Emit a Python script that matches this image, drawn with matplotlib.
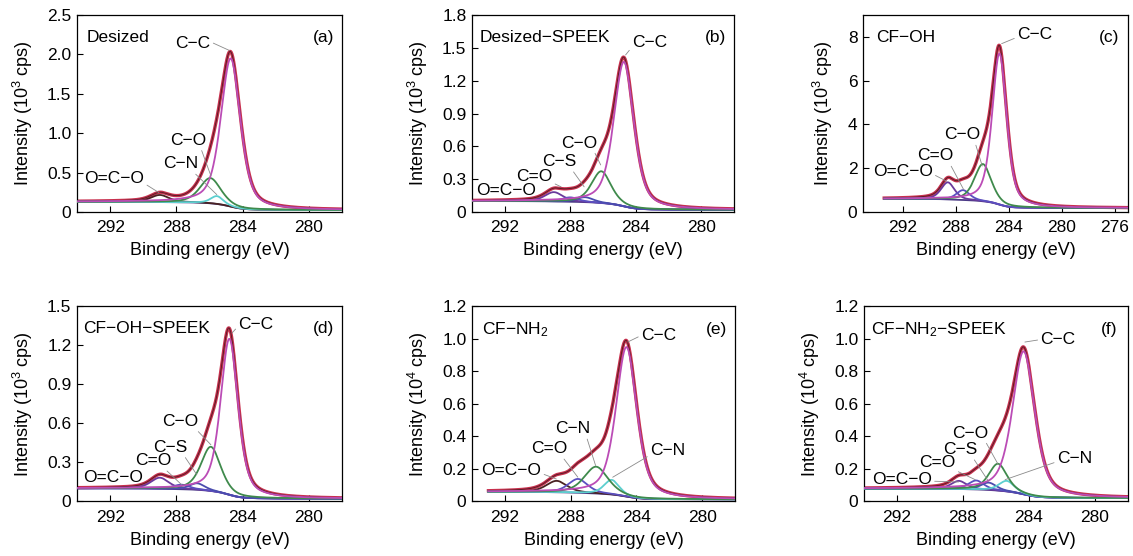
import numpy as np
import matplotlib
matplotlib.use("Agg")
import matplotlib.pyplot as plt

plt.rcParams['font.family'] = ['Liberation Sans', 'DejaVu Sans']
plt.rcParams['mathtext.fontset'] = 'custom'
plt.rcParams['mathtext.rm'] = 'Liberation Sans'
plt.rcParams['mathtext.it'] = 'Liberation Sans:italic'

# ---------------- data ----------------
panel_tags = ['(a)', '(b)', '(c)', '(d)', '(e)', '(f)']
sample_names = ['Desized', 'Desized\u2212SPEEK', 'CF\u2212OH', 'CF\u2212OH\u2212SPEEK',
                'CF\u2212NH$_2$', 'CF\u2212NH$_2$\u2212SPEEK']
y_units = ['10$^3$', '10$^3$', '10$^3$', '10$^3$', '10$^4$', '10$^4$']

# binding-energy span of recorded spectrum (eV)
be_start = [294.0, 294.0, 293.4, 294.0, 293.0, 294.0]
be_end = [278.0, 278.0, 275.0, 278.0, 278.0, 278.0]
# Shirley background levels (high-BE side, low-BE side)
bg_high = [0.13, 0.10, 0.60, 0.10, 0.058, 0.078]
bg_low = [0.025, 0.02, 0.18, 0.02, 0.012, 0.02]

# fitted components: name, centre (eV), height above background, FWHM (eV)
a_names = ['C\u2212C', 'C\u2212O', 'C\u2212N', 'O=C\u2212O']
a_centers = [284.72, 285.95, 285.55, 289.0]
a_heights = [1.88, 0.32, 0.10, 0.09]
a_fwhm = [1.4, 1.5, 0.9, 1.3]

b_names = ['C\u2212C', 'C\u2212O', 'C\u2212S', 'C=O', 'O=C\u2212O']
b_centers = [284.72, 286.1, 287.1, 288.0, 289.0]
b_heights = [1.32, 0.29, 0.045, 0.04, 0.085]
b_fwhm = [1.45, 1.4, 1.2, 1.2, 1.3]

c_names = ['C\u2212C', 'C\u2212O', 'C=O', 'O=C\u2212O']
c_centers = [284.7, 285.95, 287.45, 288.6]
c_heights = [6.9, 1.7, 0.45, 0.78]
c_fwhm = [1.3, 1.5, 1.2, 1.2]

d_names = ['C\u2212C', 'C\u2212O', 'C\u2212S', 'C=O', 'O=C\u2212O']
d_centers = [284.8, 285.92, 286.75, 287.7, 289.0]
d_heights = [1.2, 0.34, 0.05, 0.035, 0.085]
d_fwhm = [1.25, 1.4, 1.1, 1.2, 1.3]

e_names = ['C\u2212C', 'C\u2212N', 'C\u2212N', 'C=O', 'O=C\u2212O']
e_centers = [284.6, 286.45, 285.5, 287.55, 288.85]
e_heights = [0.92, 0.165, 0.09, 0.085, 0.07]
e_fwhm = [1.5, 1.7, 1.1, 1.4, 1.5]

f_names = ['C\u2212C', 'C\u2212O', 'C\u2212N', 'C\u2212S', 'C=O', 'O=C\u2212O']
f_centers = [284.32, 285.88, 285.35, 286.45, 287.2, 288.25]
f_heights = [0.88, 0.165, 0.065, 0.045, 0.055, 0.05]
f_fwhm = [1.6, 1.3, 1.1, 1.1, 1.1, 1.1]

# y-axis limits and ticks
y_max = [2.5, 1.8, 9.0, 1.5, 1.2, 1.2]
y_ticks = [[0, 0.5, 1.0, 1.5, 2.0, 2.5], [0, 0.3, 0.6, 0.9, 1.2, 1.5, 1.8], [0, 2, 4, 6, 8],
           [0, 0.3, 0.6, 0.9, 1.2, 1.5], [0, 0.2, 0.4, 0.6, 0.8, 1.0, 1.2], [0, 0.2, 0.4, 0.6, 0.8, 1.0, 1.2]]
y_ticklabels = [['0', '0.5', '1.0', '1.5', '2.0', '2.5'], ['0', '0.3', '0.6', '0.9', '1.2', '1.5', '1.8'],
                ['0', '2', '4', '6', '8'], ['0', '0.3', '0.6', '0.9', '1.2', '1.5'],
                ['0', '0.2', '0.4', '0.6', '0.8', '1.0', '1.2'], ['0', '0.2', '0.4', '0.6', '0.8', '1.0', '1.2']]
x_lims = [(294, 278), (294, 278), (295, 275), (294, 278), (294, 278), (294, 278)]
x_ticks = [[292, 288, 284, 280], [292, 288, 284, 280], [292, 288, 284, 280, 276],
           [292, 288, 284, 280], [292, 288, 284, 280], [292, 288, 284, 280]]

# annotation placement: (text BE, text I, target BE, target I, relpos)
a_notes = [(287.0, 2.14, 284.8, 2.05, (1, 0.6)), (287.3, 0.91, 285.92, 0.46, (0.85, 0)),
           (287.75, 0.61, 285.56, 0.22, (0.85, 0)), (291.75, 0.42, 289.05, 0.245, (1, 0.2))]
b_notes = [(283.15, 1.55, 284.62, 1.435, (0, 0.2)), (287.45, 0.63, 286.14, 0.43, (0.9, 0)),
           (288.65, 0.46, 287.15, 0.23, (0.85, 0)), (290.2, 0.323, 288.56, 0.23, (1, 0.1)),
           (291.9, 0.195, None, None, None)]
c_notes = [(282.05, 8.12, 284.54, 7.69, (0, 0.3)), (287.5, 3.52, 286.0, 2.1, (0.85, 0)),
           (289.55, 2.56, 287.4, 1.02, (0.9, 0)), (292.0, 1.87, 288.67, 1.4, (1, 0.3))]
d_notes = [(283.2, 1.36, 284.64, 1.295, (0, 0.4)), (287.8, 0.615, 285.92, 0.435, (0.9, 0.1)),
           (288.4, 0.415, 286.77, 0.205, (0.9, 0)), (289.4, 0.312, 287.69, 0.128, (0.8, 0)),
           (291.85, 0.18, None, None, None)]
e_notes = [(282.65, 1.02, 284.53, 0.98, (0, 0.5)), (287.9, 0.446, 286.48, 0.22, (0.9, 0)),
           (282.1, 0.312, 285.44, 0.148, (0, 0.2)), (289.3, 0.323, 287.56, 0.148, (0.85, 0)),
           (291.6, 0.19, 288.87, 0.137, (1, 0.3))]
f_notes = [(282.25, 0.995, 284.25, 0.98, (0, 0.5)), (287.55, 0.42, 285.86, 0.225, (0.9, 0)),
           (281.25, 0.262, 285.45, 0.133, (0, 0.3)), (288.15, 0.318, 286.46, 0.123, (0.85, 0)),
           (289.55, 0.236, 287.26, 0.133, (1, 0)), (291.7, 0.133, 288.27, 0.119, (1, 0.4))]

# ---------------- styling ----------------
comp_colors = {'C\u2212C': '#bb4cb6', 'C\u2212O': '#3f8a4c', 'C\u2212N': '#5ccfcf',
               'C\u2212S': '#4a4cae', 'C=O': '#5a4fc0', 'O=C\u2212O': '#6a3a9c'}
env_color = '#c8304e'
raw_color = '#2b1616'
bg_color = '#4b3a86'

positions = [[0.0680, 0.6187, 0.2339, 0.3543], [0.4166, 0.6187, 0.2312, 0.3543],
             [0.7617, 0.6187, 0.2339, 0.3543], [0.0680, 0.0984, 0.2339, 0.3507],
             [0.4166, 0.0984, 0.2321, 0.3507], [0.7626, 0.0984, 0.2330, 0.3507]]
name_pos = [(0.038, 0.885), (0.03, 0.885), (0.05, 0.885), (0.023, 0.885), (0.037, 0.88), (0.027, 0.88)]

all_names = [a_names, b_names, c_names, d_names, e_names, f_names]
all_centers = [a_centers, b_centers, c_centers, d_centers, e_centers, f_centers]
all_heights = [a_heights, b_heights, c_heights, d_heights, e_heights, f_heights]
all_fwhm = [a_fwhm, b_fwhm, c_fwhm, d_fwhm, e_fwhm, f_fwhm]
all_notes = [a_notes, b_notes, c_notes, d_notes, e_notes, f_notes]
comp_override = {4: {1: '#3f8a4c', 4: '#4a2222'}, 0: {3: '#4a2222'}}

ETA = 0.5


def pseudo_voigt(x, c, h, w):
    g = np.exp(-4 * np.log(2) * (x - c) ** 2 / w ** 2)
    lz = 1.0 / (1.0 + 4 * (x - c) ** 2 / w ** 2)
    return h * ((1 - ETA) * g + ETA * lz)


fig = plt.figure(figsize=(11.33, 5.56), dpi=100)
fs = 12.5

for i in range(6):
    ax = fig.add_axes(positions[i])
    x = np.linspace(be_end[i], be_start[i], 800)  # ascending BE
    comps = [pseudo_voigt(x, c, h, w) for c, h, w in zip(all_centers[i], all_heights[i], all_fwhm[i])]
    total = np.sum(comps, axis=0)
    cum = np.cumsum(total)
    bg = bg_low[i] + (bg_high[i] - bg_low[i]) * cum / cum[-1]
    env = bg + total
    ax.plot(x, env, color=env_color, lw=2.4, zorder=2)
    ax.plot(x, env, color=raw_color, lw=0.7, alpha=0.7, zorder=3)
    ax.plot(x, bg, color=bg_color, lw=1.3, zorder=4)
    order = list(range(len(comps)))[::-1]
    for k in order:
        col = comp_override.get(i, {}).get(k, comp_colors[all_names[i][k]])
        ax.plot(x, bg + comps[k], color=col, lw=1.3, zorder=5)

    ax.set_xlim(*x_lims[i])
    ax.set_ylim(0, y_max[i])
    ax.set_xticks(x_ticks[i])
    ax.set_yticks(y_ticks[i])
    ax.set_yticklabels(y_ticklabels[i])
    ax.tick_params(direction='in', length=4, width=0.8, labelsize=fs)
    ax.tick_params(axis='x', pad=6)
    ax.tick_params(axis='y', pad=4)
    for s in ax.spines.values():
        s.set_linewidth(0.9)
    ax.set_xlabel('Binding energy (eV)', fontsize=fs + 0.5, labelpad=5)
    ax.set_ylabel('Intensity (' + y_units[i] + ' cps)', fontsize=fs + 0.5, labelpad=9)

    ax.text(name_pos[i][0], name_pos[i][1], sample_names[i], transform=ax.transAxes,
            fontsize=fs, ha='left', va='center')
    ax.text(0.93, name_pos[i][1], panel_tags[i], transform=ax.transAxes,
            fontsize=fs, ha='center', va='center')

    for k, (tx, ty, px, py, rp) in enumerate(all_notes[i]):
        label = all_names[i][k]
        if px is None:
            ax.text(tx, ty, label, fontsize=fs, ha='center', va='center', zorder=6)
        else:
            ax.annotate(label, xy=(px, py), xytext=(tx, ty), fontsize=fs, ha='center', va='center',
                        zorder=6,
                        arrowprops=dict(arrowstyle='-', color='#8a8a8a', lw=0.6,
                                        shrinkA=0, shrinkB=0, relpos=rp))

fig.savefig('out.png', dpi=100)
